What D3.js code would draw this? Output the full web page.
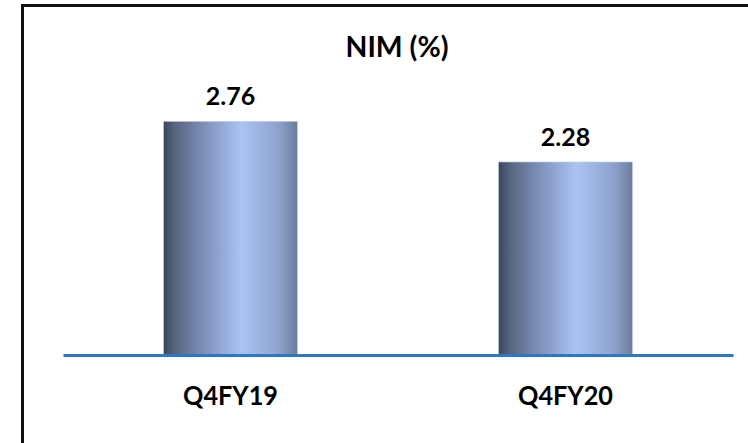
<!DOCTYPE html>
<html>
<head>
<meta charset="utf-8">
<script src="https://cdn.jsdelivr.net/npm/d3@7"></script>
<style>
  body { margin: 0; background: #fff; }
  text { font-family: Lato, "Open Sans", sans-serif; font-weight: bold; fill: #000; }
</style>
</head>
<body>
<div id="graph"></div>
<script>
var categories = ["Q4FY19", "Q4FY20"]
var values = [2.76, 2.28]
var labels = ["2.76", "2.28"]
var title = "NIM (%)"

var width = 748, height = 443
var margin = {top: 101, left: 63, right: 15, baseline: 355}

var svg = d3.select('#graph').append('svg')
  .attr('width', width)
  .attr('height', height)

// frame: only top and left lines show
svg.append('line')
  .attr('x1', 21).attr('x2', width).attr('y1', 5.5).attr('y2', 5.5)
  .attr('stroke', '#111').attr('stroke-width', 3)
svg.append('line')
  .attr('x1', 22.5).attr('x2', 22.5).attr('y1', 4).attr('y2', height)
  .attr('stroke', '#111').attr('stroke-width', 3)

var defs = svg.append('defs')
var grad = defs.append('linearGradient').attr('id', 'barGrad')
  .attr('x1', '0%').attr('x2', '100%').attr('y1', '0%').attr('y2', '0%')
var stops = [
  [0, '#39455a'], [0.08, '#55647f'], [0.3, '#7c90b8'],
  [0.58, '#a9c4f4'], [0.85, '#8ea4d0'], [1, '#6c7c9e']
]
stops.forEach(function(s) {
  grad.append('stop').attr('offset', s[0]).attr('stop-color', s[1])
})

var x = d3.scaleBand()
  .domain(categories)
  .range([63, 733])
  .paddingInner(0.6)
  .paddingOuter(0.3)

var y = d3.scaleLinear()
  .domain([0, 3])
  .range([margin.baseline, margin.top])

svg.selectAll('.bar')
  .data(values)
  .enter().append('rect')
  .attr('class', 'bar')
  .attr('x', function(d, i) { return x(categories[i]) })
  .attr('width', x.bandwidth())
  .attr('y', function(d) { return y(d) })
  .attr('height', function(d) { return y(0) - y(d) })
  .attr('fill', 'url(#barGrad)')
  .attr('stroke', '#c9d3e6')
  .attr('stroke-width', 0.6)

svg.selectAll('.val')
  .data(values)
  .enter().append('text')
  .attr('class', 'val')
  .attr('x', function(d, i) { return x(categories[i]) + x.bandwidth() / 2 })
  .attr('y', function(d) { return y(d) - 16 })
  .attr('text-anchor', 'middle')
  .style('font-size', '25px')
  .text(function(d, i) { return labels[i] })

// x axis
var axis = svg.append('g')
  .attr('transform', 'translate(0,' + y(0) + ')')
  .call(d3.axisBottom(x).tickSize(0).tickPadding(31))
axis.select('.domain').attr('stroke', '#2a78c6').attr('stroke-width', 3)
axis.selectAll('text')
  .style('font-size', '27px')
  .style('font-family', 'Lato, "Open Sans", sans-serif')
  .attr('fill', '#000')
  .attr('textLength', 95)
  .attr('lengthAdjust', 'spacingAndGlyphs')

svg.append('text')
  .attr('x', 397).attr('y', 57)
  .attr('text-anchor', 'middle')
  .style('font-size', '28px')
  .attr('textLength', 103)
  .attr('lengthAdjust', 'spacingAndGlyphs')
  .text(title)
</script>
</body>
</html>
